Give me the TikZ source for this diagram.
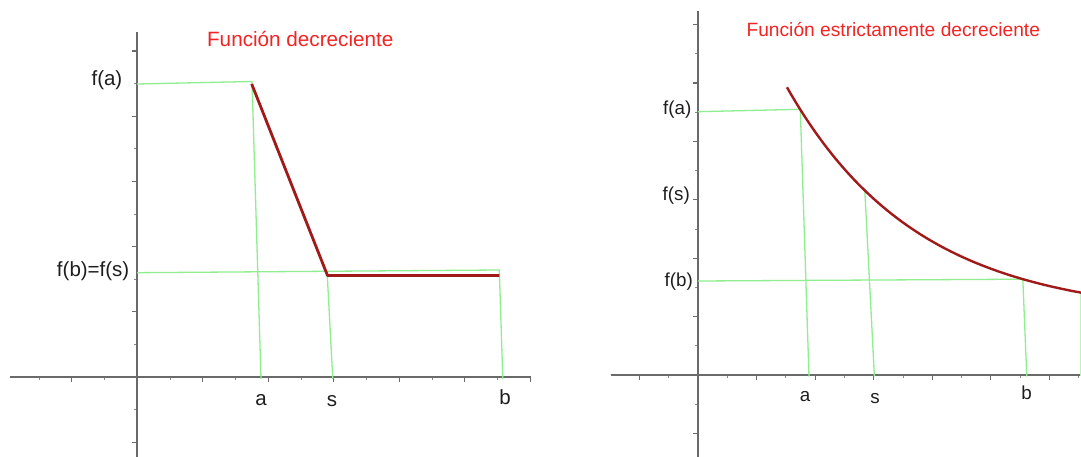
\documentclass[tikz,border=0pt]{standalone}
\usepackage{fontspec}
\setmainfont{Liberation Sans}
\definecolor{axisgray}{HTML}{6A6A6A}
\definecolor{guidegreen}{HTML}{90EE90}
\definecolor{curvered}{HTML}{A01A1A}
\definecolor{titlered}{HTML}{F22424}
\definecolor{labelblack}{HTML}{1E1E1E}
\tikzset{
  axisline/.style={draw=axisgray, line width=1.6pt},
  majortick/.style={draw=axisgray, line width=1.1pt},
  minortick/.style={draw=axisgray!80, line width=0.8pt},
  guide/.style={draw=guidegreen, line width=1.3pt},
  graphcurve/.style={draw=curvered, line width=2.8pt, line join=round},
  titletext/.style={text=titlered, inner sep=0pt, anchor=base},
  lefttext/.style={text=labelblack, inner sep=0pt, font=\fontsize{20.5}{24}\selectfont},
  righttext/.style={text=labelblack, inner sep=0pt, font=\fontsize{18.8}{22}\selectfont}
}
\begin{document}
\begin{tikzpicture}[x=1pt,y=-1pt]
\useasboundingbox[fill=white] (0,0) rectangle (1081,457);

% ===================== LEFT GRAPH =====================
\foreach \k in {-3,...,12}{
  \pgfmathsetmacro{\xx}{137.2+\k*32.76}
  \ifodd\k
    \draw[minortick] (\xx,377.5) -- (\xx,380);
  \else
    \draw[majortick] (\xx,377) -- (\xx,382);
  \fi
}
\foreach \k in {-2,...,10}{
  \pgfmathsetmacro{\yy}{377-\k*32.6}
  \ifodd\k
    \draw[minortick] (136.5,\yy) -- (134,\yy);
  \else
    \draw[majortick] (137,\yy) -- (132,\yy);
  \fi
}
\draw[axisline] (137.2,32) -- (137.2,457);
\draw[axisline] (9.5,377) -- (531,377);

\coordinate (LA0) at (137.2,84);
\coordinate (LA) at (252,81.5);
\coordinate (LAx) at (261,379);
\coordinate (LB0) at (137.2,272.7);
\coordinate (LB) at (499.3,270);
\coordinate (LBx) at (502.8,379);
\coordinate (LS) at (327.3,276);
\coordinate (LSx) at (332.8,379);
\draw[guide] (LA0) -- (LA) -- (LAx);
\draw[guide] (LB0) -- (LB) -- (LBx);
\draw[guide] (LS) -- (LSx);

\coordinate (LP1) at (251.7,84);
\coordinate (LP2) at (327.5,275.5);
\coordinate (LP3) at (499.3,275.5);
\draw[graphcurve] (LP1) -- (LP2) -- (LP3);

\node[titletext, font=\fontsize{20.7}{24}\selectfont] (LT) at (300.3,46.5) {Función decreciente};
\node[lefttext, anchor=base east] (Lfa) at (122.5,86) {f(a)};
\node[lefttext, anchor=base east] (Lfb) at (129.5,276.5) {f(b)=f(s)};
\node[lefttext, anchor=base] (La) at (261,405.5) {a};
\node[lefttext, anchor=base] (Ls) at (332,406) {s};
\node[lefttext, anchor=base] (Lb) at (505,404.5) {b};

% ===================== RIGHT GRAPH =====================
\foreach \k in {-2,...,13}{
  \pgfmathsetmacro{\xx}{697.9+\k*29.3}
  \ifodd\k
    \draw[minortick] (\xx,375.5) -- (\xx,378);
  \else
    \draw[majortick] (\xx,375) -- (\xx,380);
  \fi
}
\foreach \k in {-2,...,12}{
  \pgfmathsetmacro{\yy}{375-\k*29.2}
  \ifodd\k
    \draw[minortick] (697.4,\yy) -- (695,\yy);
  \else
    \draw[majortick] (698,\yy) -- (693,\yy);
  \fi
}
\draw[axisline] (697.9,11.5) -- (697.9,457);
\draw[axisline] (610.7,375) -- (1081,375);

\coordinate (RA0) at (697.9,111.7);
\coordinate (RA) at (800.3,109.3);
\coordinate (RAx) at (809,376.5);
\coordinate (RS) at (864.8,190.5);
\coordinate (RSx) at (874.4,376.5);
\coordinate (RB0) at (697.9,281);
\coordinate (RB) at (1022.8,279.2);
\coordinate (RBx) at (1026.8,376.5);
\coordinate (RE) at (1080.3,292);
\coordinate (REx) at (1080.3,376);
\draw[guide] (RA0) -- (RA) -- (RAx);
\draw[guide] (RS) -- (RSx);
\draw[guide] (RB0) -- (RB) -- (RBx);
\draw[guide, draw=guidegreen!60] (RE) -- (REx);

\draw[graphcurve, line width=2.4pt] plot[domain=3.04:13.1, samples=80, variable=\t]
  ({697.9+29.3*\t},{375-29.2*(2+15.56*exp(-0.225*\t))});

\node[titletext, font=\fontsize{19.2}{23}\selectfont] (RT) at (893.3,36.7) {Función estrictamente decreciente};
\node[righttext, anchor=base east] (Rfa) at (691.5,115) {f(a)};
\node[righttext, anchor=base east] (Rfs) at (690,200.5) {f(s)};
\node[righttext, anchor=base east] (Rfb) at (693,286) {f(b)};
\node[righttext, anchor=base] (Ra) at (805,401.5) {a};
\node[righttext, anchor=base] (Rs) at (875,403.3) {s};
\node[righttext, anchor=base] (Rb) at (1026.7,399.5) {b};
\end{tikzpicture}
\end{document}
